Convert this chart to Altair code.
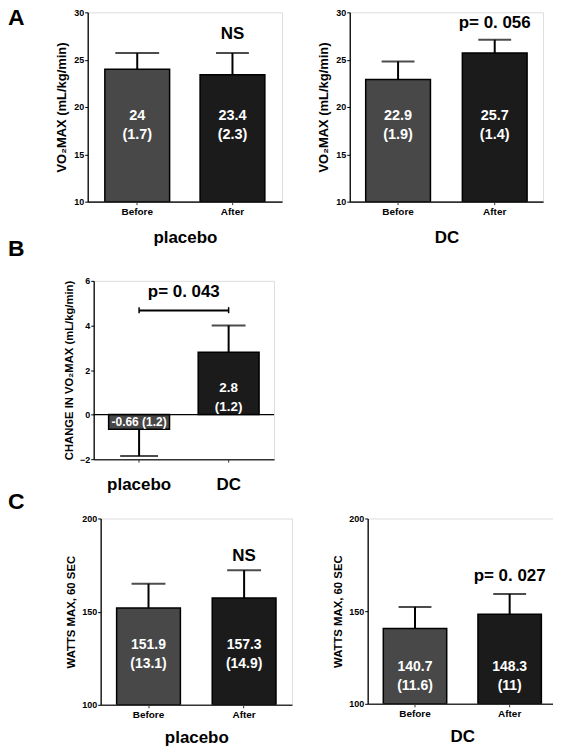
import altair as alt
import pandas as pd

# ---------------- data ----------------
ab_cats = ["Before", "After"]
a_placebo_mean = [24.0, 23.4]
a_placebo_sd = [1.7, 2.3]
a_dc_mean = [22.9, 25.7]
a_dc_sd = [1.9, 1.4]

b_groups = ["placebo", "DC"]
b_change_mean = [-0.66, 2.8]
b_change_sd = [1.2, 1.2]

c_placebo_mean = [151.9, 157.3]
c_placebo_sd = [13.1, 14.9]
c_dc_mean = [140.7, 148.3]
c_dc_sd = [11.6, 11.0]

a_ticks = [10, 15, 20, 25, 30]
b_ticks = [-2, 0, 2, 4, 6]
c_ticks = [100, 150, 200]

sig_a = ["NS", "p= 0. 056"]
sig_b = "p= 0. 043"
sig_c = ["NS", "p= 0. 027"]

# ---------------- style ----------------
FONT = "Liberation Sans"
GRAY = "#484848"
DARK = "#1b1b1b"


def fmt(v):
    return f"{v:g}"


def panel(cats, means, sds, ydom, yticks, ytitle, ytitle_size, xtitle,
          width, height, pin, pout, label_y, label_sizes, caps,
          sig=None, sig_y=None, letter=None, letter_xy=(0, 0),
          inline_neg=False, xlabel_size=10, xlabel_pad=2, xtick=3,
          bracket=None, xtitle_pad=10):
    labels = []
    for m, s in zip(means, sds):
        if inline_neg and m < 0:
            labels.append(f"{fmt(m)} ({fmt(s)})")
        else:
            labels.append(f"{fmt(m)}\n({fmt(s)})")
    base_y = ydom[0] if ydom[0] > 0 else 0
    df = pd.DataFrame({
        "cat": cats,
        "mean": means,
        "end": [m + s if m >= 0 else m - s for m, s in zip(means, sds)],
        "label": labels,
        "ly": label_y,
        "fs": label_sizes,
        "cap": caps,
        "color": [GRAY, DARK],
        "base": [base_y] * len(cats),
    })

    xaxis = alt.Axis(labelAngle=0, labelFont=FONT, labelFontWeight="bold",
                     labelFontSize=xlabel_size, labelColor="black",
                     labelPadding=xlabel_pad, tickSize=xtick, tickColor="#333",
                     domainColor="#333", domainWidth=1.6, titleFont=FONT,
                     titleFontWeight="bold", titleFontSize=17, titleColor="black",
                     titlePadding=xtitle_pad)
    x = alt.X("cat:N", sort=cats, title=xtitle if xtitle else None,
              scale=alt.Scale(paddingInner=pin, paddingOuter=pout), axis=xaxis)

    yaxis = alt.Axis(values=yticks, grid=False, labelFont=FONT,
                     labelFontWeight="bold", labelFontSize=9, labelColor="black",
                     labelPadding=1, tickSize=3, tickColor="black",
                     domainColor="black", domainWidth=1.3, titleFont=FONT,
                     titleFontWeight="bold", titleFontSize=ytitle_size,
                     titleColor="black", titlePadding=5)
    yscale = alt.Scale(domain=ydom, nice=False, zero=False)

    def Y(field):
        return alt.Y(f"{field}:Q", scale=yscale, axis=yaxis, title=ytitle)

    base = alt.Chart(df)

    bars = base.mark_bar(stroke="black", strokeWidth=1.5, clip=True).encode(
        x=x, y=Y("mean"), y2=alt.Y2("base:Q"),
        color=alt.Color("color:N", scale=None))
    err = base.mark_rule(color="black", strokeWidth=2).encode(
        x=x, y=Y("mean"), y2=alt.Y2("end:Q"))
    cap = base.mark_tick(color="black", thickness=2).encode(
        x=x, y=Y("end"), size=alt.Size("cap:Q", scale=None))
    txt = base.mark_text(color="white", font=FONT, fontWeight="bold",
                         lineBreak="\n", lineHeight=19, baseline="middle").encode(
        x=x, y=Y("ly"), text="label:N", size=alt.Size("fs:Q", scale=None))

    layers = [bars, err, cap, txt]

    if ydom[0] < 0:
        zdf = pd.DataFrame({"z": [0]})
        layers.append(alt.Chart(zdf).mark_rule(color="black", strokeWidth=1.3)
                      .encode(y=Y("z")))

    if bracket is not None:
        bdf = pd.DataFrame({"cat": cats, "by": [bracket[0]] * 2,
                            "b1": [bracket[1]] * 2, "b2": [bracket[2]] * 2})
        layers.append(alt.Chart(bdf).mark_line(color="black", strokeWidth=1.8)
                      .encode(x=x, y=Y("by")))
        layers.append(alt.Chart(bdf).mark_rule(color="black", strokeWidth=1.5)
                      .encode(x=x, y=Y("b1"), y2=alt.Y2("b2:Q")))

    if sig is not None:
        sdf = pd.DataFrame({"cat": [cats[1]], "sy": [sig_y], "t": [sig]})
        dx = 0 if bracket is None else bracket[3]
        layers.append(alt.Chart(sdf).mark_text(font=FONT, fontWeight="bold",
                                               fontSize=17, color="black",
                                               baseline="middle", dx=dx)
                      .encode(x=x, y=Y("sy"), text="t:N"))

    if letter is not None:
        ldf = pd.DataFrame({"t": [letter]})
        layers.append(alt.Chart(ldf).mark_text(font=FONT, fontWeight="bold",
                                               fontSize=23, color="black",
                                               align="left", baseline="middle")
                      .encode(x=alt.value(letter_xy[0]), y=alt.value(letter_xy[1]),
                              text="t:N"))

    return alt.layer(*layers).properties(width=width, height=height)


def spacer():
    # invisible 1px cell so every row is placed by its own left bound
    return alt.Chart(pd.DataFrame({"v": [0]})).mark_point(opacity=0, size=0).encode(
        x=alt.value(0), y=alt.value(0)).properties(width=1, height=1)


vo2 = "VO\u2082MAX (mL/kg/min)"

a_left = panel(ab_cats, a_placebo_mean, a_placebo_sd, [10, 30], a_ticks, vo2, 13,
               "placebo", 195, 190, 0.32, 0.18, [19, 19], [14.5, 14.5], [44, 33],
               sig=sig_a[0], sig_y=27.7, letter="A", letter_xy=(-80, 5.5),
               xtitle_pad=13.5)
a_right = panel(ab_cats, a_dc_mean, a_dc_sd, [10, 30], a_ticks, vo2, 13,
                "DC", 194, 190, 0.33, 0.165, [19, 19], [14.5, 14.5], [33, 33],
                sig=sig_a[1], sig_y=28.9, xtitle_pad=13.5)

b_panel = panel(b_groups, b_change_mean, b_change_sd, [-2, 6], b_ticks,
                "CHANGE IN " + vo2, 11.3, None, 181, 179, 0.32, 0.167,
                [-0.31, 1.2], [12, 13.5], [38, 34],
                sig=sig_b, sig_y=5.5, letter="B", letter_xy=(-86, -32),
                inline_neg=True, xlabel_size=17, xlabel_pad=14, xtick=3,
                bracket=(4.67, 4.82, 4.55, -45))

c_left = panel(ab_cats, c_placebo_mean, c_placebo_sd, [100, 200], c_ticks,
               "WATTS MAX, 60 SEC", 11.4, "placebo", 192, 187, 0.333, 0.167,
               [132, 132], [14, 14], [34, 34],
               sig=sig_c[0], sig_y=179.8, letter="C", letter_xy=(-93, -17),
               xtitle_pad=10)
c_right = panel(ab_cats, c_dc_mean, c_dc_sd, [100, 200], c_ticks,
                "WATTS MAX, 60 SEC", 11.4, "DC", 190, 186, 0.33, 0.165,
                [120, 120], [14, 14], [33, 33],
                sig=sig_c[1], sig_y=169, xtitle_pad=10)

row_a = alt.hconcat(spacer(), alt.hconcat(a_left, a_right, spacing=34), spacing=0)
row_b = alt.hconcat(spacer(), b_panel, spacing=0)
row_c = alt.hconcat(spacer(), alt.hconcat(c_left, c_right, spacing=39), spacing=0)
top = alt.concat(row_a, row_b, columns=1, align="none", spacing=-9.5)
chart = alt.concat(top, row_c, columns=1, align="none", spacing=-3).properties(
    padding={"left": -4, "top": -3, "right": -5, "bottom": 0}
).configure_view(stroke=None).configure(font=FONT, background="white")

chart.save("out.html", embed_options={"renderer": "svg", "actions": False})
